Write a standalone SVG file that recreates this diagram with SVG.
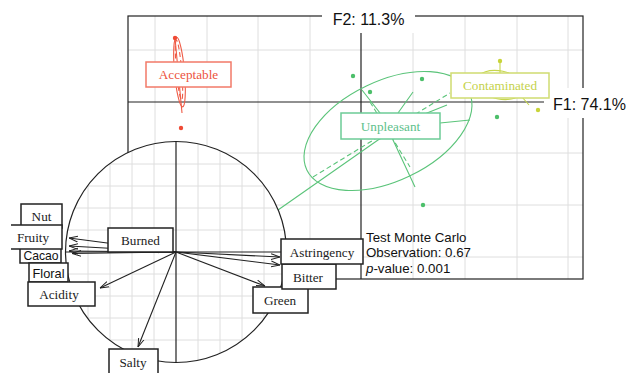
<svg xmlns="http://www.w3.org/2000/svg" width="626" height="373" viewBox="0 0 626 373">
<defs>
<style>
.grid{stroke:#dedede;stroke-width:1;fill:none}
.ax{stroke:#222;stroke-width:1.2;fill:none}
.lbl{fill:#fff;stroke:#222;stroke-width:1.5}
.serif{font-family:"Liberation Serif","Times New Roman",serif;font-size:13.2px;fill:#222}
.sans{font-family:"Liberation Sans",Arial,sans-serif;fill:#111}
.arr{stroke:#222;stroke-width:1.1;fill:none;marker-end:url(#ah)}
.red{stroke:#ef5a45;fill:none;stroke-width:1.1}
.grn{stroke:#5bc47a;fill:none;stroke-width:1.1}
.yel{stroke:#c6d64c;fill:none;stroke-width:1.1}
.dash{stroke-dasharray:5 3}
</style>
<marker id="ah" viewBox="0 0 10 10" refX="10" refY="5" markerWidth="9" markerHeight="9" markerUnits="userSpaceOnUse" orient="auto">
<path d="M0,1.8 L10,5 L0,8.2" fill="none" stroke="#222" stroke-width="1.1"/>
</marker>
<clipPath id="fineclip"><circle cx="176" cy="252" r="110.5"/></clipPath>
</defs>
<rect width="626" height="373" fill="#fff"/>

<g id="main-grid" class="grid">
<path d="M155,16V279M207,16V279M258,16V279M310,16V279M413,16V279M465,16V279M517,16V279M568,16V279"/>
<path d="M128,50H583M128,153H583M128,205H583M128,257H583"/>
</g>
<g id="frame" class="ax">
<rect x="128" y="16" width="455" height="263"/>
<path d="M128,102H544M361,33V279"/>
</g>
<g id="axis-labels">
<rect x="322" y="0" width="93" height="33" fill="#fff"/>
<text class="sans" x="368.5" y="25" font-size="16" text-anchor="middle">F2: 11.3%</text>
<rect x="545" y="88" width="81" height="30" fill="#fff"/>
<text class="sans" x="553" y="110" font-size="16">F1: 74.1%</text>
</g>

<g id="acceptable-group">
<ellipse cx="179.5" cy="72" rx="5" ry="35" transform="rotate(-5 179.5 72)" class="red"/>
<ellipse cx="179" cy="70" rx="2.6" ry="30" transform="rotate(-5 179 70)" class="red dash"/>
<path d="M175,38L182,113" class="red"/>
<circle cx="175" cy="38" r="2.2" fill="#ef4a35"/>
<circle cx="181" cy="128" r="2.2" fill="#ef4a35"/>
</g>
<g id="contaminated-group">
<ellipse cx="500" cy="85" rx="24" ry="14" transform="rotate(12 500 85)" class="yel"/>
<path d="M500,62V73M522,97L529,105" class="yel"/>
<circle cx="500" cy="61" r="2.2" fill="#c8d43a"/>
<circle cx="538" cy="110" r="2.2" fill="#c8d43a"/>
</g>
<g id="unpleasant-group">
<ellipse cx="388" cy="131" rx="90" ry="50" transform="rotate(-25.6 388 131)" class="grn"/>
<path d="M278,210L378,140L427,113L447,105" class="grn"/>
<path d="M313,177L450,93" class="grn dash"/>
<path d="M362,90L380,113L393,140L415,187" class="grn"/>
<path d="M370,102L410,167" class="grn dash"/>
<path d="M398,113L413,92M440,123L470,120" class="grn"/>
<circle cx="353" cy="76" r="2.2" fill="#4cbf6a"/>
<circle cx="422" cy="79" r="2.2" fill="#4cbf6a"/>
<circle cx="370" cy="92" r="2.2" fill="#4cbf6a"/>
<circle cx="423" cy="205" r="2.2" fill="#4cbf6a"/>
<circle cx="497" cy="117" r="2.2" fill="#4cbf6a"/>
</g>

<g id="node-acceptable">
<rect x="146" y="62" width="85" height="25" fill="#fff" stroke="#f27a68" stroke-width="1.5"/>
<text class="serif" x="188.5" y="79" text-anchor="middle" style="fill:#ec5340">Acceptable</text>
</g>
<g id="node-contaminated">
<rect x="451" y="73" width="98" height="25" fill="#fff" stroke="#cfdc70" stroke-width="1.5"/>
<text class="serif" x="500" y="90" text-anchor="middle" style="fill:#c4d24a">Contaminated</text>
</g>
<g id="node-unpleasant">
<rect x="341" y="113" width="99" height="26" fill="#fff" stroke="#6ccb97" stroke-width="1.5"/>
<text class="serif" x="390.5" y="130.5" text-anchor="middle" style="fill:#5dbf8c">Unpleasant</text>
</g>

<g id="test-text">
<text class="sans" x="366" y="242" font-size="13.3">Test Monte Carlo</text>
<text class="sans" x="366" y="257" font-size="13.3">Observation: 0.67</text>
<text class="sans" x="366" y="272.5" font-size="13.3"><tspan font-style="italic">p</tspan>-value: 0.001</text>
</g>

<g id="circle-inset">
<circle cx="176" cy="252" r="110.5" fill="#fff"/>
<g class="grid" clip-path="url(#fineclip)">
<path d="M88,140V365M110,140V365M132,140V365M154,140V365M198,140V365M220,140V365M242,140V365M264,140V365M286,140V365"/>
<path d="M64,164H290M64,186H290M64,208H290M64,230H290M64,274H290M64,296H290M64,318H290M64,340H290"/>
</g>
<circle cx="176" cy="252" r="110.5" fill="none" stroke="#222" stroke-width="1.2"/>
<path d="M176,141.5V362.5M65.5,252H286.5" class="ax"/>
</g>

<g id="connectors">
<path d="M176,252L69,238" class="arr"/>
<path d="M176,252L69,246" class="arr"/>
<path d="M176,252L69,251" class="arr"/>
<path d="M176,252L72,253.5" class="arr"/>
<path d="M176,252L100,288" class="arr"/>
<path d="M176,252L138,347" class="arr"/>
<path d="M176,252L280,257" class="arr"/>
<path d="M176,252L280,265" class="arr"/>
<path d="M176,252L265,286" class="arr"/>
<path d="M176,252L150,249" class="arr"/>
</g>

<g id="node-nut">
<rect x="21" y="204" width="41" height="24" class="lbl"/>
<text class="serif" x="41.5" y="221" text-anchor="middle">Nut</text>
</g>
<g id="node-cacao">
<rect x="20" y="240" width="41" height="23" class="lbl"/>
<text class="sans" x="41" y="260" font-size="12.2" text-anchor="middle">Cacao</text>
</g>
<g id="node-fruity">
<path d="M11,225H62V249H11Z" fill="#fff"/>
<path d="M11,225H62V249H11" fill="none" stroke="#222" stroke-width="1.5"/>
<text class="serif" x="33" y="242" text-anchor="middle">Fruity</text>
</g>
<g id="node-floral">
<rect x="29" y="263" width="39" height="19" class="lbl"/>
<text class="sans" x="48.5" y="278" font-size="12.8" text-anchor="middle">Floral</text>
</g>
<g id="node-acidity">
<rect x="28" y="282" width="67" height="24" class="lbl"/>
<text class="serif" x="59" y="299" text-anchor="middle">Acidity</text>
</g>
<g id="node-burned">
<rect x="108" y="228" width="65" height="24" class="lbl"/>
<text class="serif" x="140.5" y="245" text-anchor="middle">Burned</text>
</g>
<g id="node-salty">
<rect x="109" y="349" width="49" height="30" class="lbl"/>
<text class="serif" x="133" y="367" text-anchor="middle">Salty</text>
</g>
<g id="node-green">
<rect x="253" y="287" width="55" height="26" class="lbl"/>
<text class="serif" x="280" y="305" text-anchor="middle">Green</text>
</g>
<g id="node-bitter">
<rect x="282" y="264" width="54" height="25" class="lbl"/>
<text class="serif" x="308" y="282" text-anchor="middle">Bitter</text>
</g>
<g id="node-astringency">
<rect x="281" y="239" width="82" height="25" class="lbl"/>
<text class="serif" x="322" y="257" text-anchor="middle">Astringency</text>
</g>
</svg>
